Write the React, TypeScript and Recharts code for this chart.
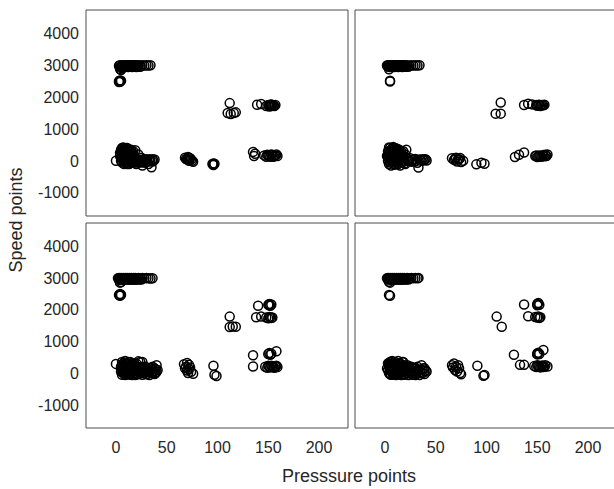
import { ScatterChart, Scatter, XAxis, YAxis } from "recharts"

type Pt = [number, number]

const xTicks = [0, 50, 100, 150, 200]
const yTicks = [-1000, 0, 1000, 2000, 3000, 4000]
const xDomain: [number, number] = [-29.5, 228.5]
const yDomain: [number, number] = [-1730, 4730]

// top-left panel
const panelA: Pt[] = [
    [3, 2980], [4, 3000], [5, 2950], [6, 3000], [7, 2980], [8, 3000], [9, 2970], [10, 3000], [11, 2990],
    [12, 3000], [13, 2980], [14, 3000], [15, 2990], [16, 3000], [17, 2980], [18, 3000], [19, 2990], [20, 3000],
    [21, 2980], [22, 3000], [24, 2990], [26, 3000], [28, 2990], [30, 3000], [32, 2990], [34, 3000],
    [4, 2940], [6, 2950], [8, 2940], [10, 2950], [12, 2940], [14, 2950], [16, 2940], [18, 2950], [20, 2940],
    [22, 2950], [24, 2950], [4, 2880], [5, 2850], [6, 2900],
    [3, 2500], [4, 2480], [5, 2510], [4, 2520], [3, 2470],
    [0, 0], [4, 250], [5, 350], [5, 100], [6, -50], [6, 200], [7, 420], [7, 300], [7, 0], [8, 150], [8, -100],
    [9, 380], [9, 250], [9, 50], [10, -50], [10, 150], [11, 300], [11, 100], [12, 0], [12, 220], [13, -100],
    [13, 350], [14, 100], [15, 250], [15, -50], [16, 50], [17, 0], [17, 150], [19, 330], [20, -100], [20, 50],
    [22, 200], [23, 0], [24, -50], [25, 100], [26, -150], [27, 50], [28, 0], [29, -50], [30, 50], [31, 0],
    [32, -100], [33, 50], [34, 0], [35, -200], [36, 50], [37, 0], [38, 40],
    [5, 300], [6, 400], [6, 100], [7, 200], [8, 350], [8, 50], [9, 150], [10, 300], [10, 400], [11, -100],
    [11, 200], [12, 100], [13, 250], [14, 0], [14, 300], [16, 150], [18, -50], [19, 0], [21, -50], [22, 50],
    [25, 0], [27, -50], [30, -20], [33, -20], [36, -20],
    [4, 150], [5, 0], [6, 300], [7, 100], [8, 250], [8, 400], [9, -50], [10, 50], [10, 200], [11, 400],
    [12, 300], [12, -50], [13, 150], [14, 200], [15, 150], [15, 350], [16, -50], [16, 250], [17, 300], [18, 100],
    [68, 100], [70, 50], [71, 120], [72, 0], [73, 80], [75, 0], [76, -30], [69, 60], [71, 30], [72, 90], [74, 40],
    [95, -100], [96, -130], [97, -90], [96, -80],
    [112, 1810], [110, 1500], [113, 1470], [116, 1500], [118, 1520],
    [139, 1760], [143, 1780], [148, 1720], [150, 1750], [151, 1700], [152, 1760], [153, 1720], [154, 1750], [155, 1730],
    [151, 1740], [153, 1770], [156, 1720], [157, 1750],
    [135, 280], [136, 150], [137, 220], [146, 170], [148, 130], [150, 160], [152, 130], [154, 180], [156, 150],
    [158, 200], [159, 150], [149, 190], [151, 150], [153, 200], [155, 130], [157, 170],
]

// top-right panel
const panelB: Pt[] = [
    [2, 2990], [3, 3000], [4, 2970], [5, 3000], [6, 2990], [7, 3000], [8, 2980], [9, 3000], [10, 2990],
    [11, 3000], [12, 2980], [13, 3000], [14, 2990], [15, 3000], [16, 2980], [17, 3000], [18, 2990], [19, 3000],
    [20, 2990], [22, 3000], [24, 2980], [26, 3000], [28, 2990], [30, 3000], [32, 2990], [34, 3000],
    [3, 2950], [5, 2940], [7, 2950], [9, 2940], [11, 2950], [13, 2940], [15, 2950], [17, 2940], [19, 2950],
    [21, 2950], [23, 2950], [4, 2870],
    [5, 2490], [5, 2510],
    [2, 150], [3, 300], [3, 0], [4, 420], [4, -100], [5, 200], [5, 50], [6, 350], [6, -150], [7, 100], [7, 250],
    [8, 430], [8, -50], [9, 180], [9, 320], [10, 0], [10, -120], [11, 250], [11, 100], [12, 380], [12, -80],
    [13, 50], [14, 200], [15, -150], [16, 300], [16, 80], [17, -50], [18, 150], [19, 0], [20, -100], [21, 350],
    [22, 50], [24, 0], [25, 80], [26, -30], [28, 50], [29, -20], [30, 60], [31, 0], [32, -60], [33, -210],
    [34, 40], [36, 0], [37, 50], [38, 20], [40, 50], [41, 10],
    [3, 200], [4, 300], [5, 400], [6, 0], [6, 250], [7, 380], [8, 150], [9, 50], [10, 250], [10, 400],
    [11, -50], [12, 150], [13, 300], [14, 0], [15, 100], [17, 200], [19, -80], [23, 0], [27, 30], [35, 30], [39, 40],
    [3, 100], [4, 200], [5, -50], [6, 150], [7, 0], [7, 330], [8, 250], [9, -100], [9, 400], [10, 100],
    [11, 350], [12, 50], [12, 250], [13, -100], [14, 350], [15, 200], [16, -20], [17, 120], [18, 300], [20, 200],
    [66, 80], [68, 30], [70, 100], [71, -20], [73, 50], [75, -40], [77, 0], [69, 70], [72, 40], [74, 90],
    [90, -110], [95, -60], [98, -90],
    [114, 1830], [109, 1480], [114, 1480],
    [137, 1750], [141, 1790], [145, 1770], [149, 1750], [150, 1730], [152, 1760], [153, 1720], [155, 1750], [156, 1740],
    [151, 1750], [154, 1740], [157, 1760],
    [128, 120], [132, 190], [137, 260], [148, 150], [150, 120], [152, 170], [154, 130], [155, 160], [157, 140],
    [158, 190], [159, 150], [149, 170], [151, 140], [153, 150], [156, 180], [160, 200],
]

// bottom-left panel
const panelC: Pt[] = [
    [2, 2990], [3, 3000], [4, 2980], [5, 3000], [6, 2990], [7, 3000], [8, 2980], [9, 3000], [10, 2990],
    [11, 3000], [12, 2980], [13, 3000], [14, 2990], [15, 3000], [16, 2980], [17, 3000], [18, 2990], [19, 3000],
    [20, 2990], [22, 3000], [24, 2980], [26, 3000], [28, 2990], [30, 3000], [32, 2990], [34, 2980], [36, 2990],
    [3, 2940], [5, 2950], [7, 2940], [9, 2950], [11, 2940], [13, 2950], [15, 2940], [17, 2950], [19, 2940],
    [21, 2950], [23, 2950], [25, 2950], [4, 2850], [5, 2870],
    [3, 2460], [4, 2440], [5, 2470], [4, 2490],
    [0, 290], [5, 200], [5, 50], [6, 350], [6, -50], [7, 300], [7, 100], [8, 0], [8, 250], [9, 380], [9, -60],
    [10, 150], [10, 50], [11, 300], [11, -30], [12, 200], [12, 0], [13, 100], [14, -50], [14, 350], [15, 250],
    [15, 50], [16, -60], [17, 150], [18, 0], [18, 300], [19, -60], [20, 100], [21, 200], [22, -40], [22, 370],
    [24, 350], [25, 50], [26, -50], [26, 350], [27, 150], [28, 0], [29, 200], [30, -40], [31, 100], [32, 50],
    [33, -60], [34, 150], [35, 0], [36, 200], [37, 50], [38, -30], [39, 120], [40, 250], [40, 40],
    [6, 150], [7, 250], [8, 100], [9, 200], [10, 300], [11, 150], [12, 100], [13, 250], [14, 150], [16, 100],
    [17, 50], [19, 200], [20, 0], [21, 100], [23, 150], [24, 0], [25, 200], [27, 50], [28, 100], [30, 150],
    [31, -20], [33, 100], [35, 150], [36, 0], [38, 150], [39, 0], [41, 100],
    [5, 120], [6, 250], [7, 0], [8, 330], [9, 100], [10, -40], [11, 220], [12, 350], [13, 0], [14, 250],
    [15, 150], [16, 300], [17, -40], [18, 200], [19, 100], [20, 300], [21, -20], [22, 150], [24, 100], [26, 150],
    [67, 280], [70, 320], [72, 260], [68, 150], [70, 80], [72, 120], [74, 40], [76, -20], [71, 0], [69, 200], [73, 180],
    [96, 230], [97, -50], [99, -90],
    [112, 1780], [112, 1450], [115, 1470], [118, 1460],
    [140, 2125], [150, 2150], [151, 2180], [152, 2120], [153, 2160], [151, 2140],
    [138, 1760], [143, 1780], [148, 1750], [150, 1730], [152, 1760], [153, 1740], [154, 1750], [151, 1770],
    [135, 560], [135, 210], [150, 600], [151, 630], [152, 580], [153, 610], [158, 690],
    [147, 200], [149, 170], [150, 230], [152, 180], [154, 210], [156, 170], [158, 230], [159, 190],
    [151, 200], [153, 230], [155, 190], [157, 210],
]

// bottom-right panel
const panelD: Pt[] = [
    [2, 2990], [3, 3000], [4, 2980], [5, 3000], [6, 2990], [7, 3000], [8, 2980], [9, 3000], [10, 2990],
    [11, 3000], [12, 2980], [13, 3000], [14, 2990], [15, 3000], [16, 2980], [17, 3000], [18, 2990], [19, 3000],
    [20, 2990], [22, 3000], [24, 2980], [26, 3000], [28, 2990], [30, 3000], [32, 2990], [33, 3000],
    [3, 2950], [5, 2940], [7, 2950], [9, 2940], [11, 2950], [13, 2940], [15, 2950], [17, 2940], [19, 2950],
    [21, 2950], [23, 2950], [4, 2880], [5, 2850],
    [4, 2460], [5, 2440],
    [2, 150], [3, 300], [4, 0], [5, 350], [5, 100], [6, -50], [6, 250], [7, 380], [7, 50], [8, 200], [8, -50],
    [9, 300], [9, 100], [10, 0], [10, 350], [11, 150], [11, -60], [12, 250], [12, 50], [13, 380], [13, -40],
    [14, 150], [15, 300], [15, 0], [16, -60], [17, 200], [18, 50], [18, 350], [19, -50], [20, 150], [21, 0],
    [22, 250], [23, -60], [24, 100], [25, 0], [26, 200], [27, -50], [28, 50], [29, 150], [30, -60], [31, 50],
    [32, 200], [33, 0], [34, -60], [35, 100], [36, 250], [37, 0], [38, 150], [39, -30], [40, 80],
    [4, 200], [5, 250], [6, 100], [7, 300], [8, 0], [9, 200], [10, 150], [11, 250], [12, 0], [13, 150],
    [14, 50], [16, 250], [17, 100], [19, 150], [20, 50], [22, 100], [23, 200], [25, 150], [26, 50], [28, 150],
    [29, 0], [31, 150], [33, 100], [35, 0], [37, 100], [39, 150], [41, 50],
    [3, 100], [4, 300], [5, -40], [6, 350], [7, 150], [8, 300], [9, -30], [10, 250], [11, 50], [12, 150],
    [13, 300], [14, -30], [15, 200], [16, 100], [17, 350], [18, 150], [19, 250], [20, -40], [21, 200], [24, 200],
    [66, 250], [68, 300], [70, 200], [69, 100], [71, 50], [73, 150], [74, 0], [75, -40], [67, 180], [72, 250],
    [91, 230], [97, -85], [98, -60],
    [110, 1780], [115, 1460],
    [137, 2160], [150, 2180], [151, 2210], [152, 2150], [150, 2140],
    [141, 1790], [148, 1770], [150, 1750], [151, 1780], [153, 1760], [152, 1740],
    [127, 580], [133, 260], [137, 260], [150, 620], [151, 640], [152, 600], [156, 730], [150, 590],
    [147, 220], [149, 190], [150, 250], [152, 200], [154, 220], [156, 190], [158, 250], [160, 210],
    [151, 230], [153, 180], [155, 240], [157, 200],
]

const FONT = '"Liberation Sans", Arial, Helvetica, sans-serif'
const AXIS = "#4d4d4d"
const TEXT = "#262626"

const Ring = (props: any) => (
    <circle cx={props.cx} cy={props.cy} r={4.5} fill="none" stroke="#000" strokeWidth={1.5} />
)

interface PanelProps {
    data: Pt[]
    left: number
    top: number
    w: number
    h: number
    showX: boolean
    showY: boolean
}

const Panel = ({ data, left, top, w, h, showX, showY }: PanelProps) => {
    const L = 60
    const T = 5
    const R = 5
    const B = 40
    const rows = data.map(([x, y]) => ({ x, y }))
    const tickStyle = { fill: TEXT, fontSize: 16, fontFamily: FONT }
    const frame = {
        type: "number" as const,
        interval: 0 as const,
        allowDataOverflow: true,
        mirror: true,
        tickSize: 3,
        tick: false,
        stroke: AXIS,
    }
    return (
        <div style={{ position: "absolute", left: left - L, top: top - T }}>
            <ScatterChart width={L + w + R} height={T + h + B} margin={{ top: T, right: R, left: 0, bottom: 0 }}>
                {/* inward tick marks + box on all four sides */}
                <XAxis xAxisId="bt" orientation="bottom" height={1} domain={xDomain} ticks={xTicks} {...frame} />
                <XAxis xAxisId="t" orientation="top" height={1} domain={xDomain} ticks={xTicks} {...frame} />
                <YAxis yAxisId="lt" orientation="left" width={1} domain={yDomain} ticks={yTicks} {...frame} />
                <YAxis yAxisId="r" orientation="right" width={1} domain={yDomain} ticks={yTicks} {...frame} />
                {/* label axes */}
                <XAxis
                    xAxisId="b"
                    type="number"
                    dataKey="x"
                    domain={xDomain}
                    ticks={xTicks}
                    interval={0}
                    allowDataOverflow
                    height={B}
                    tickSize={0}
                    tickMargin={14}
                    tickLine={false}
                    axisLine={false}
                    tick={showX ? tickStyle : false}
                />
                <YAxis
                    yAxisId="l"
                    type="number"
                    dataKey="y"
                    domain={yDomain}
                    ticks={yTicks}
                    interval={0}
                    allowDataOverflow
                    width={L}
                    tickSize={0}
                    tickMargin={7}
                    tickLine={false}
                    axisLine={false}
                    tick={showY ? tickStyle : false}
                />
                <Scatter data={rows} xAxisId="b" yAxisId="l" shape={Ring} isAnimationActive={false} />
                <Scatter data={[]} xAxisId="bt" yAxisId="lt" isAnimationActive={false} />
                <Scatter data={[]} xAxisId="t" yAxisId="r" isAnimationActive={false} />
            </ScatterChart>
        </div>
    )
}

export default function App() {
    return (
        <div
            style={{
                position: "absolute",
                left: 0,
                top: 0,
                width: 614,
                height: 489,
                overflow: "hidden",
                background: "#fff",
                fontFamily: FONT,
            }}
        >
            <Panel data={panelA} left={86} top={10} w={262} h={206} showX={false} showY={true} />
            <Panel data={panelB} left={355} top={10} w={262} h={206} showX={false} showY={false} />
            <Panel data={panelC} left={86} top={223} w={262} h={205} showX={true} showY={true} />
            <Panel data={panelD} left={355} top={223} w={262} h={205} showX={true} showY={false} />
            <div
                style={{
                    position: "absolute",
                    left: 349,
                    top: 467,
                    transform: "translateX(-50%)",
                    fontSize: 18,
                    lineHeight: "18px",
                    whiteSpace: "nowrap",
                    color: TEXT,
                }}
            >
                Presssure points
            </div>
            <div
                style={{
                    position: "absolute",
                    left: 16,
                    top: 220,
                    transform: "translate(-50%, -50%) rotate(-90deg)",
                    fontSize: 18,
                    lineHeight: "18px",
                    whiteSpace: "nowrap",
                    color: TEXT,
                }}
            >
                Speed points
            </div>
        </div>
    )
}
